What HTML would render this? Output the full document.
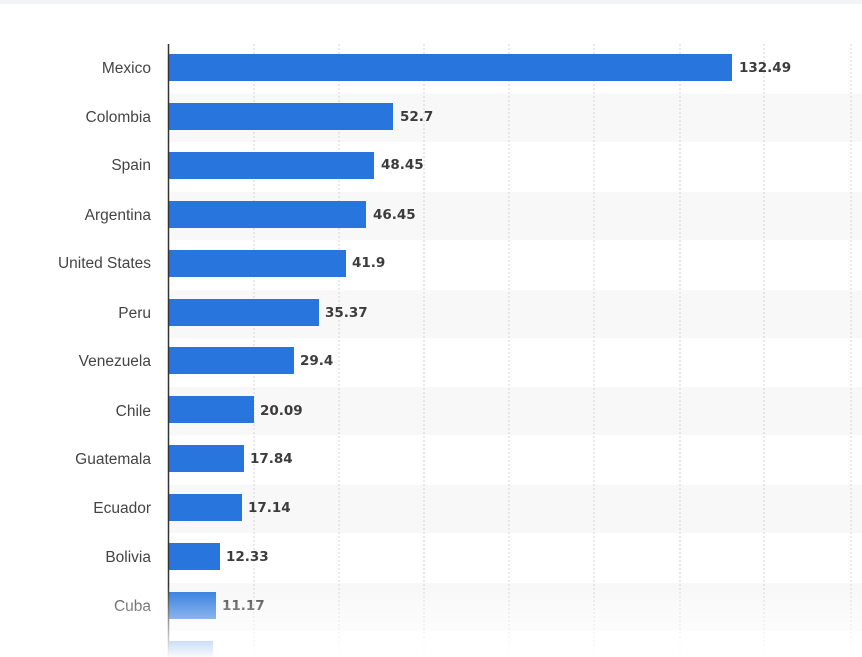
<!DOCTYPE html>
<html><head><meta charset="utf-8"><style>
html,body{margin:0;padding:0;background:#fff;}
svg{display:block;font-family:"Liberation Sans",sans-serif;}
</style></head><body>
<svg width="862" height="657" xmlns="http://www.w3.org/2000/svg">
<defs>
<linearGradient id="fade" x1="0" y1="0" x2="0" y2="1">
<stop offset="0" stop-color="#fff" stop-opacity="0"/>
<stop offset="1" stop-color="#fff" stop-opacity="0.97"/>
</linearGradient>
</defs>
<rect x="0" y="0" width="862" height="4" fill="#f3f4f6"/>
<g fill="#f8f8f8">
<rect x="168" y="94" width="694" height="48"/>
<rect x="168" y="192" width="694" height="48"/>
<rect x="168" y="290" width="694" height="48"/>
<rect x="168" y="387" width="694" height="48"/>
<rect x="168" y="485" width="694" height="48"/>
<rect x="168" y="583" width="694" height="48"/>
</g>
<g stroke="#d4d4d4" stroke-width="1" stroke-dasharray="2,2">
<line x1="254" y1="44" x2="254" y2="657"/>
<line x1="339" y1="44" x2="339" y2="657"/>
<line x1="424" y1="44" x2="424" y2="657"/>
<line x1="509" y1="44" x2="509" y2="657"/>
<line x1="594" y1="44" x2="594" y2="657"/>
<line x1="680" y1="44" x2="680" y2="657"/>
<line x1="764" y1="44" x2="764" y2="657"/>
<line x1="851" y1="44" x2="851" y2="657"/>
</g>
<g fill="#2876dd">
<rect x="169" y="54" width="563" height="27"/>
<rect x="169" y="103" width="224" height="27"/>
<rect x="169" y="152" width="205" height="27"/>
<rect x="169" y="201" width="197" height="27"/>
<rect x="169" y="250" width="177" height="27"/>
<rect x="169" y="299" width="150" height="27"/>
<rect x="169" y="347" width="125" height="27"/>
<rect x="169" y="396" width="85" height="27"/>
<rect x="169" y="445" width="75" height="27"/>
<rect x="169" y="494" width="73" height="27"/>
<rect x="169" y="543" width="51" height="27"/>
<rect x="169" y="592" width="47" height="27"/>
<rect x="169" y="641" width="44" height="27"/>
</g>
<line x1="168.5" y1="44" x2="168.5" y2="657" stroke="#333" stroke-width="1.5"/>
<g font-size="15.5" fill="#444" text-anchor="end">
<text x="151" y="73">Mexico</text>
<text x="151" y="122">Colombia</text>
<text x="151" y="170">Spain</text>
<text x="151" y="220">Argentina</text>
<text x="151" y="268">United States</text>
<text x="151" y="318">Peru</text>
<text x="151" y="366">Venezuela</text>
<text x="151" y="416">Chile</text>
<text x="151" y="464">Guatemala</text>
<text x="151" y="513">Ecuador</text>
<text x="151" y="562">Bolivia</text>
<text x="151" y="611">Cuba</text>
</g>
<g font-size="13.5" font-weight="bold" fill="#3c3c3c" font-family="DejaVu Sans, sans-serif">
<text x="739" y="72">132.49</text>
<text x="400" y="121">52.7</text>
<text x="381" y="169">48.45</text>
<text x="373" y="219">46.45</text>
<text x="352" y="267">41.9</text>
<text x="325" y="317">35.37</text>
<text x="300" y="365">29.4</text>
<text x="260" y="415">20.09</text>
<text x="250" y="463">17.84</text>
<text x="248" y="512">17.14</text>
<text x="226" y="561">12.33</text>
<text x="222" y="610">11.17</text>
</g>
<rect x="0" y="585" width="862" height="72" fill="url(#fade)"/>
</svg>
</body></html>
